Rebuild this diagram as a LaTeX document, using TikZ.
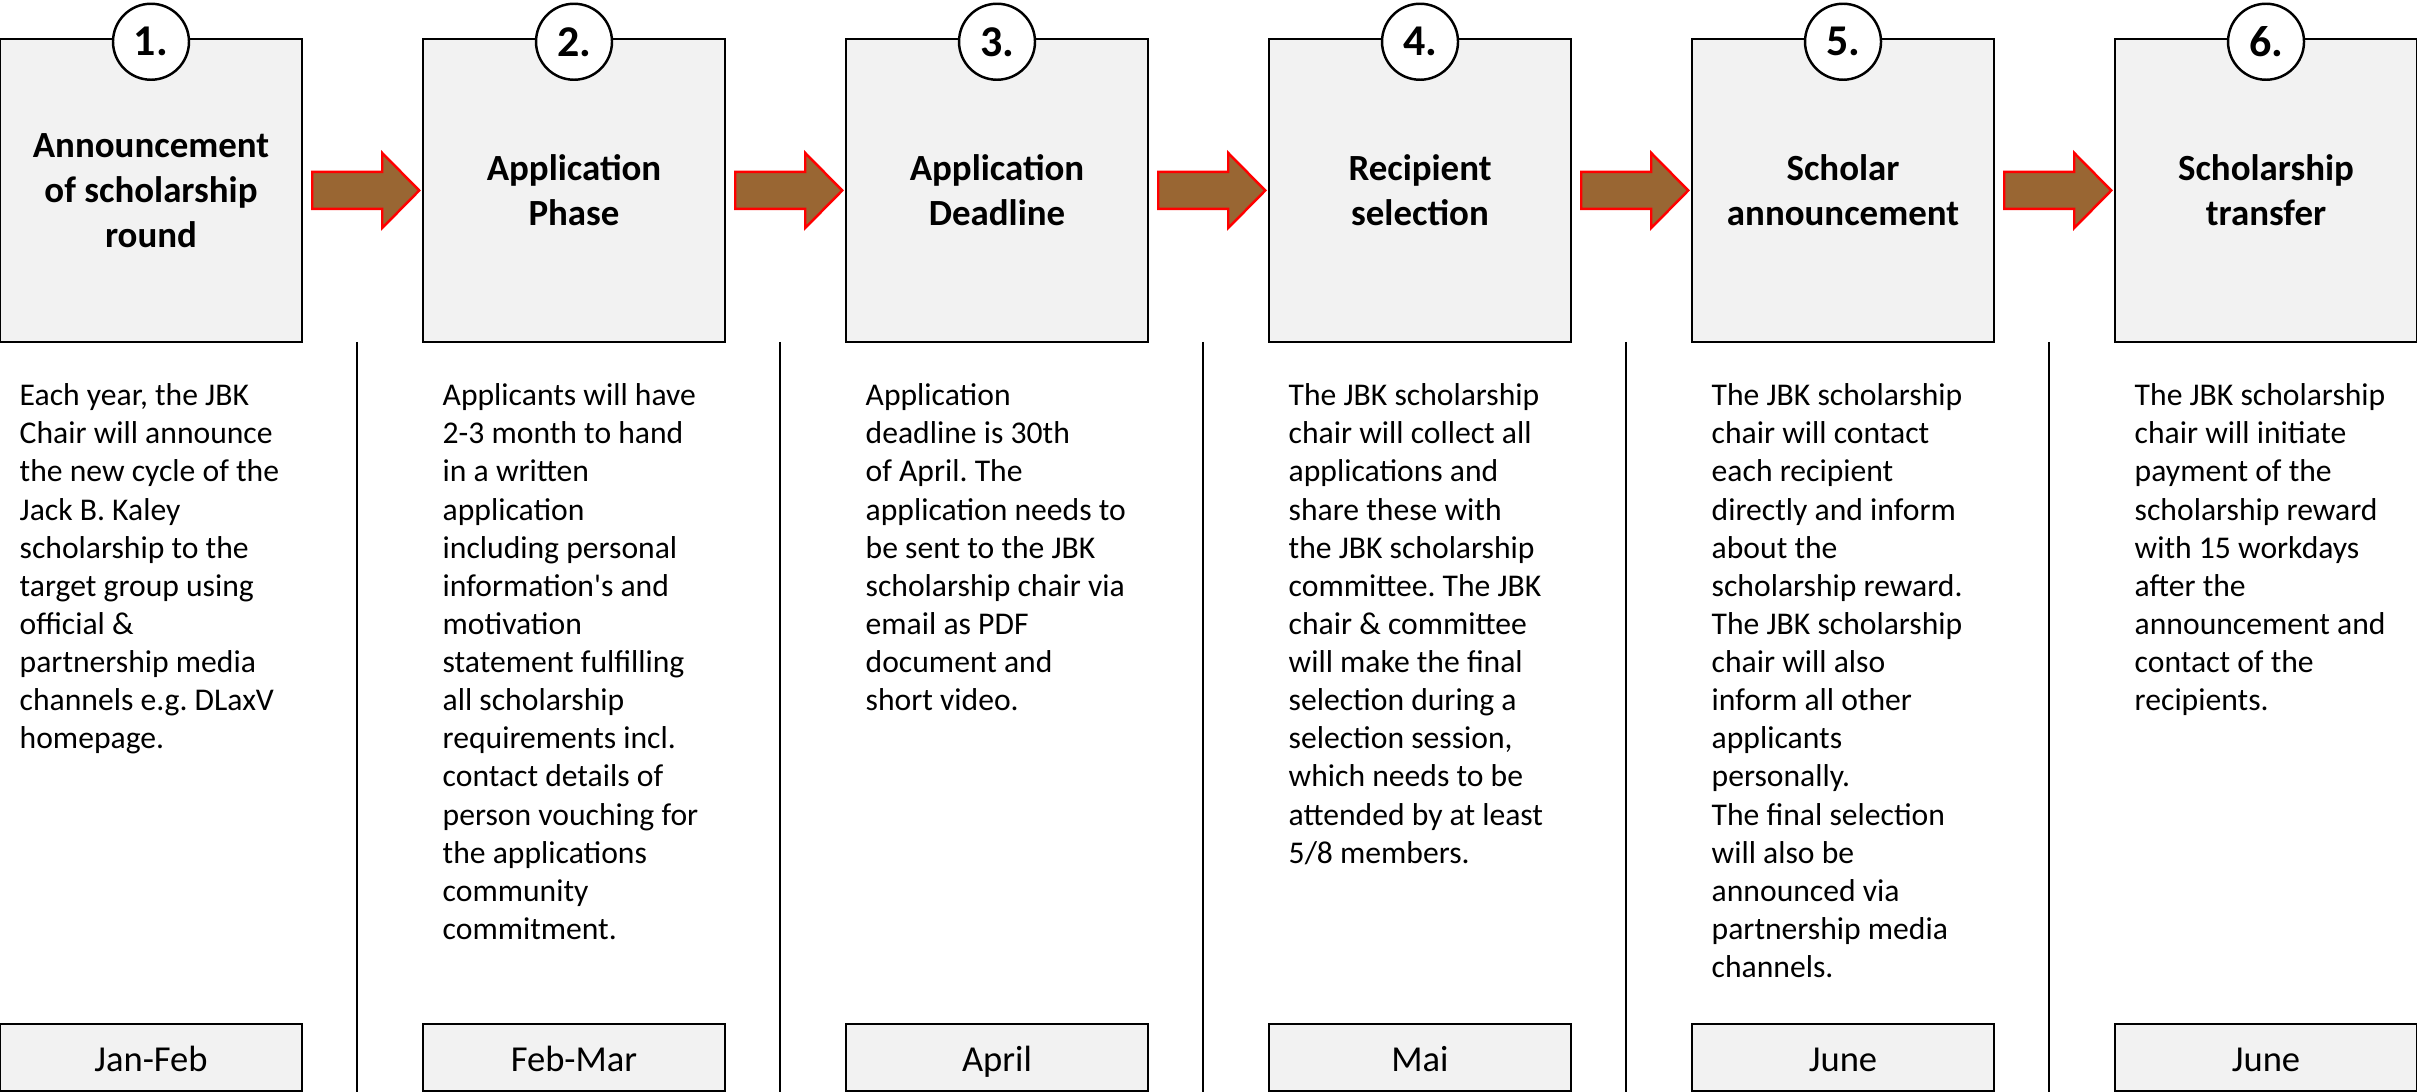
\documentclass[tikz,border=0pt]{standalone}
\usepackage{fontspec}
\setmainfont{Carlito}
\usepackage{xcolor}
\usepackage{tikz}
\usetikzlibrary{calc}
\definecolor{jbkgray}{RGB}{242,242,242}
\definecolor{jbkbrown}{RGB}{153,102,51}
\definecolor{jbkred}{RGB}{255,0,0}
\tikzset{
  phasebox/.style={draw=black, line width=0.7pt, fill=jbkgray, minimum width=3.02cm, minimum height=3.03cm, inner sep=0pt, align=center, font=\fontsize{10.5}{12.8}\selectfont\bfseries},
  numcirc/.style={circle, draw=black, line width=0.7pt, fill=white, minimum size=0.76cm, inner sep=0pt, font=\fontsize{12.5}{14}\selectfont\bfseries},
  datebox/.style={draw=black, line width=0.7pt, fill=jbkgray, minimum width=3.02cm, minimum height=0.67cm, inner sep=0pt, text height=10.2pt, text depth=2.5pt, font=\fontsize{10.4}{12}\selectfont},
  notes/.style={anchor=north west, inner sep=0pt, align=left, font=\fontsize{9.0}{10.85}\selectfont},
  blockarr/.style={draw=jbkred, line width=0.7pt, fill=jbkbrown, line join=miter},
  sepline/.style={draw=black, line width=0.6pt},
}
\frenchspacing

\begin{document}
\begin{tikzpicture}
  \useasboundingbox (0,0) rectangle (24.17,10.92);
  % phase boxes
  \node[phasebox] (b1) at (1.51,9.015) {Announcement\\of scholarship\\round};
  \node[phasebox] (b2) at (5.74,9.015) {Application\\Phase};
  \node[phasebox] (b3) at (9.97,9.015) {Application\\Deadline};
  \node[phasebox] (b4) at (14.20,9.015) {Recipient\\selection};
  \node[phasebox] (b5) at (18.43,9.015) {Scholar\\announcement};
  \node[phasebox] (b6) at (22.66,9.015) {Scholarship\\transfer};
  \node[numcirc] (n1) at ($(b1.north)+(0,-0.04)$) {1.};
  \node[numcirc] (n2) at ($(b2.north)+(0,-0.04)$) {2.};
  \node[numcirc] (n3) at ($(b3.north)+(0,-0.04)$) {3.};
  \node[numcirc] (n4) at ($(b4.north)+(0,-0.04)$) {4.};
  \node[numcirc] (n5) at ($(b5.north)+(0,-0.04)$) {5.};
  \node[numcirc] (n6) at ($(b6.north)+(0,-0.04)$) {6.};
  % block arrows
  \draw[blockarr] ($(b1.east)+(0.09,0.185)$) -- ++(0.70,0) -- ++(0,0.19) -- ++(0.37,-0.375) -- ++(-0.37,-0.375) -- ++(0,0.19) -- ++(-0.70,0) -- cycle;
  \draw[blockarr] ($(b2.east)+(0.09,0.185)$) -- ++(0.70,0) -- ++(0,0.19) -- ++(0.37,-0.375) -- ++(-0.37,-0.375) -- ++(0,0.19) -- ++(-0.70,0) -- cycle;
  \draw[blockarr] ($(b3.east)+(0.09,0.185)$) -- ++(0.70,0) -- ++(0,0.19) -- ++(0.37,-0.375) -- ++(-0.37,-0.375) -- ++(0,0.19) -- ++(-0.70,0) -- cycle;
  \draw[blockarr] ($(b4.east)+(0.09,0.185)$) -- ++(0.70,0) -- ++(0,0.19) -- ++(0.37,-0.375) -- ++(-0.37,-0.375) -- ++(0,0.19) -- ++(-0.70,0) -- cycle;
  \draw[blockarr] ($(b5.east)+(0.09,0.185)$) -- ++(0.70,0) -- ++(0,0.19) -- ++(0.37,-0.375) -- ++(-0.37,-0.375) -- ++(0,0.19) -- ++(-0.70,0) -- cycle;
  % separators
  \draw[sepline] (3.57,7.50) -- (3.57,0);
  \draw[sepline] (7.80,7.50) -- (7.80,0);
  \draw[sepline] (12.03,7.50) -- (12.03,0);
  \draw[sepline] (16.26,7.50) -- (16.26,0);
  \draw[sepline] (20.49,7.50) -- (20.49,0);
  % descriptions
  \node[notes] (t1) at (0.19,7.09) {Each year, the JBK\\Chair will announce\\the new cycle of the\\Jack B. Kaley\\scholarship to the\\target group using\\official \&\\partnership media\\channels e.g. DLaxV\\homepage.};
  \node[notes] (t2) at (4.42,7.09) {Applicants will have\\2-3 month to hand\\in a written\\application\\including personal\\information\textquotesingle s and\\motivation\\statement fulfilling\\all scholarship\\requirements incl.\\contact details of\\person vouching for\\the applications\\community\\commitment.};
  \node[notes] (t3) at (8.65,7.09) {Application\\deadline is 30th\\of April. The\\application needs to\\be sent to the JBK\\scholarship chair via\\email as PDF\\document and\\short video.};
  \node[notes] (t4) at (12.88,7.09) {The JBK scholarship\\chair will collect all\\applications and\\share these with\\the JBK scholarship\\committee. The JBK\\chair \& committee\\will make the final\\selection during a\\selection session,\\which needs to be\\attended by at least\\5/8 members.};
  \node[notes] (t5) at (17.11,7.09) {The JBK scholarship\\chair will contact\\each recipient\\directly and inform\\about the\\scholarship reward.\\The JBK scholarship\\chair will also\\inform all other\\applicants\\personally.\\The final selection\\will also be\\announced via\\partnership media\\channels.};
  \node[notes] (t6) at (21.34,7.09) {The JBK scholarship\\chair will initiate\\payment of the\\scholarship reward\\with 15 workdays\\after the\\announcement and\\contact of the\\recipients.};
  % dates
  \node[datebox] (d1) at (1.51,0.345) {Jan-Feb};
  \node[datebox] (d2) at (5.74,0.345) {Feb-Mar};
  \node[datebox] (d3) at (9.97,0.345) {April};
  \node[datebox] (d4) at (14.20,0.345) {Mai};
  \node[datebox] (d5) at (18.43,0.345) {June};
  \node[datebox] (d6) at (22.66,0.345) {June};
\end{tikzpicture}
\end{document}
